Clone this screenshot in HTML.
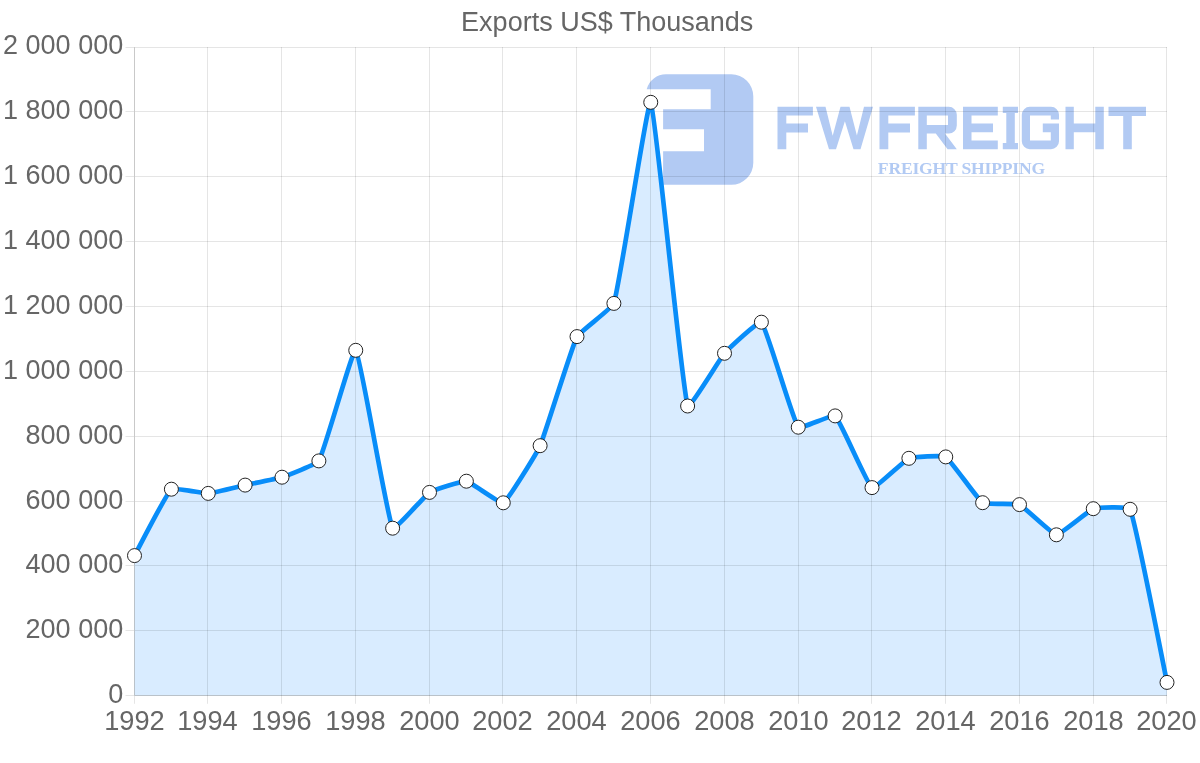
<!DOCTYPE html>
<html><head><meta charset="utf-8"><title>Exports US$ Thousands</title>
<style>html,body{margin:0;padding:0;background:#fff;}svg{display:block;will-change:transform}text{font-family:"Liberation Sans",sans-serif;fill:#666}</style></head><body>
<svg width="1200" height="763" viewBox="0 0 1200 763">
<rect width="1200" height="763" fill="#fff"/>
<g fill="#b2caf3">
<path d="M646.7 89.2 A20 20 0 0 1 666 74.3 L731.3 74.3 A22 22 0 0 1 753.3 96.3 L753.3 162.8 A22 22 0 0 1 731.3 184.8 L663.1 184.8 L663.1 151.2 L704 151.2 L704 129.3 L663.1 129.3 L663.1 109.2 L710.7 109.2 L710.7 89.2 Z"/>
<path d="M777.5 106.8 H812.9 V115.6 H786.3 V123.4 H808.0 V132.4 H786.3 V149.2 H777.5 Z"/>
<path d="M816 106.8 L825.5 106.8 L832.7 135.7 L840.5 106.8 L849.5 106.8 L856.9 135.4 L864 106.8 L873 106.8 L860.5 149.2 L853.5 149.2 L844.9 121.2 L836 149.2 L829 149.2 Z"/>
<path d="M879.5 106.8 H914.9 V115.6 H888.3 V123.4 H910.0 V132.4 H888.3 V149.2 H879.5 Z"/>
<path fill-rule="evenodd" d="M918.3 106.8 H948.8 A8 8 0 0 1 956.8 114.8 V125.5 A8 8 0 0 1 948.8 133.5 H945 L956.8 149.2 H947.6 L935.8 133.5 H926.8 V149.2 H918.3 Z M926.8 115.6 V125 H948 V115.6 Z"/>
<path d="M963 106.8 H997.8 V115.6 H971.5 V123.4 H993 V132.2 H971.5 V140.5 H997.8 V149.2 H963 Z"/>
<path d="M1002.8 106.8 H1018 V113 H1014.8 V143 H1018 V149.2 H1002.8 V143 H1006.3 V113 H1002.8 Z"/>
<path d="M1029.8 106.8 H1051 A8 8 0 0 1 1059 114.8 V119.5 H1050.8 V115.6 H1030 V140.5 H1050.8 V132.2 H1042.8 V123.5 H1059 V141.2 A8 8 0 0 1 1051 149.2 H1029.8 A8 8 0 0 1 1021.8 141.2 V114.8 A8 8 0 0 1 1029.8 106.8 Z"/>
<path d="M1065.5 106.8 H1073.8 V123.5 H1095.3 V106.8 H1103.8 V149.2 H1095.3 V132.2 H1073.8 V149.2 H1065.5 Z"/>
<path d="M1108.5 106.8 H1146 V116 H1131.8 V149.2 H1123.2 V116 H1108.5 Z"/>
</g>
<text x="961.4" y="174.3" text-anchor="middle" style="font-family:'Liberation Serif',serif;font-weight:bold;font-size:17.6px;letter-spacing:-0.2px;fill:#b2caf3">FREIGHT SHIPPING</text>
<path d="M134.50 695.5 L134.50 555.60 C138.19 548.96 166.42 493.38 171.38 489.20 C173.80 487.16 204.60 493.60 208.25 493.40 C211.97 493.19 241.43 485.91 245.12 485.10 C248.81 484.29 278.44 478.37 282.00 477.20 C285.81 475.95 316.98 464.16 318.88 460.90 C324.35 451.47 352.87 347.67 355.75 350.30 C360.24 354.40 386.88 517.12 392.62 528.20 C394.25 531.33 425.29 495.09 429.50 492.40 C432.66 490.39 462.88 480.71 466.38 481.20 C470.25 481.75 500.40 504.17 503.25 502.80 C507.78 500.62 537.39 451.87 540.12 445.70 C544.76 435.25 571.85 346.55 577.00 336.60 C579.22 332.32 612.43 307.98 613.88 303.40 C619.81 284.55 647.80 98.19 650.75 102.30 C655.17 108.45 681.53 385.26 687.62 406.00 C688.91 410.36 720.29 358.09 724.50 353.30 C727.66 349.71 759.14 319.97 761.38 322.20 C766.52 327.36 792.77 420.24 798.25 427.20 C800.15 429.61 832.74 413.95 835.12 415.90 C840.11 419.99 867.34 484.92 872.00 487.60 C874.72 489.16 904.74 460.02 908.88 458.30 C912.11 456.95 942.91 455.19 945.75 456.90 C950.28 459.63 978.09 499.77 982.62 502.70 C985.47 504.54 1016.28 503.20 1019.50 504.60 C1023.66 506.41 1052.59 534.59 1056.38 534.80 C1059.96 535.00 1089.19 510.10 1093.25 508.70 C1096.56 507.55 1128.85 506.30 1130.12 509.30 C1136.23 523.67 1163.31 665.09 1167.00 682.40 L1167.00 695.5 Z" fill="rgba(30,144,255,0.17)"/>
<g>
<rect x="125.5" y="47" width="8.5" height="1" fill="rgba(0,0,0,0.1)"/>
<rect x="135" y="47" width="1032" height="1" fill="rgba(0,0,0,0.1)"/>
<rect x="125.5" y="111" width="8.5" height="1" fill="rgba(0,0,0,0.1)"/>
<rect x="135" y="111" width="1032" height="1" fill="rgba(0,0,0,0.1)"/>
<rect x="125.5" y="176" width="8.5" height="1" fill="rgba(0,0,0,0.1)"/>
<rect x="135" y="176" width="1032" height="1" fill="rgba(0,0,0,0.1)"/>
<rect x="125.5" y="241" width="8.5" height="1" fill="rgba(0,0,0,0.1)"/>
<rect x="135" y="241" width="1032" height="1" fill="rgba(0,0,0,0.1)"/>
<rect x="125.5" y="306" width="8.5" height="1" fill="rgba(0,0,0,0.1)"/>
<rect x="135" y="306" width="1032" height="1" fill="rgba(0,0,0,0.1)"/>
<rect x="125.5" y="371" width="8.5" height="1" fill="rgba(0,0,0,0.1)"/>
<rect x="135" y="371" width="1032" height="1" fill="rgba(0,0,0,0.1)"/>
<rect x="125.5" y="436" width="8.5" height="1" fill="rgba(0,0,0,0.1)"/>
<rect x="135" y="436" width="1032" height="1" fill="rgba(0,0,0,0.1)"/>
<rect x="125.5" y="501" width="8.5" height="1" fill="rgba(0,0,0,0.1)"/>
<rect x="135" y="501" width="1032" height="1" fill="rgba(0,0,0,0.1)"/>
<rect x="125.5" y="565" width="8.5" height="1" fill="rgba(0,0,0,0.1)"/>
<rect x="135" y="565" width="1032" height="1" fill="rgba(0,0,0,0.1)"/>
<rect x="125.5" y="630" width="8.5" height="1" fill="rgba(0,0,0,0.1)"/>
<rect x="135" y="630" width="1032" height="1" fill="rgba(0,0,0,0.1)"/>
<rect x="125.5" y="695" width="8.5" height="1" fill="rgba(0,0,0,0.1)"/>
<rect x="135" y="695" width="1032" height="1" fill="rgba(0,0,0,0.21)"/>
<rect x="134" y="47" width="1" height="649" fill="rgba(0,0,0,0.21)"/>
<rect x="134" y="696" width="1" height="7.8" fill="rgba(0,0,0,0.1)"/>
<rect x="207" y="47" width="1" height="649" fill="rgba(0,0,0,0.1)"/>
<rect x="207" y="696" width="1" height="7.8" fill="rgba(0,0,0,0.1)"/>
<rect x="281" y="47" width="1" height="649" fill="rgba(0,0,0,0.1)"/>
<rect x="281" y="696" width="1" height="7.8" fill="rgba(0,0,0,0.1)"/>
<rect x="355" y="47" width="1" height="649" fill="rgba(0,0,0,0.1)"/>
<rect x="355" y="696" width="1" height="7.8" fill="rgba(0,0,0,0.1)"/>
<rect x="429" y="47" width="1" height="649" fill="rgba(0,0,0,0.1)"/>
<rect x="429" y="696" width="1" height="7.8" fill="rgba(0,0,0,0.1)"/>
<rect x="502" y="47" width="1" height="649" fill="rgba(0,0,0,0.1)"/>
<rect x="502" y="696" width="1" height="7.8" fill="rgba(0,0,0,0.1)"/>
<rect x="576" y="47" width="1" height="649" fill="rgba(0,0,0,0.1)"/>
<rect x="576" y="696" width="1" height="7.8" fill="rgba(0,0,0,0.1)"/>
<rect x="650" y="47" width="1" height="649" fill="rgba(0,0,0,0.1)"/>
<rect x="650" y="696" width="1" height="7.8" fill="rgba(0,0,0,0.1)"/>
<rect x="724" y="47" width="1" height="649" fill="rgba(0,0,0,0.1)"/>
<rect x="724" y="696" width="1" height="7.8" fill="rgba(0,0,0,0.1)"/>
<rect x="798" y="47" width="1" height="649" fill="rgba(0,0,0,0.1)"/>
<rect x="798" y="696" width="1" height="7.8" fill="rgba(0,0,0,0.1)"/>
<rect x="871" y="47" width="1" height="649" fill="rgba(0,0,0,0.1)"/>
<rect x="871" y="696" width="1" height="7.8" fill="rgba(0,0,0,0.1)"/>
<rect x="945" y="47" width="1" height="649" fill="rgba(0,0,0,0.1)"/>
<rect x="945" y="696" width="1" height="7.8" fill="rgba(0,0,0,0.1)"/>
<rect x="1019" y="47" width="1" height="649" fill="rgba(0,0,0,0.1)"/>
<rect x="1019" y="696" width="1" height="7.8" fill="rgba(0,0,0,0.1)"/>
<rect x="1093" y="47" width="1" height="649" fill="rgba(0,0,0,0.1)"/>
<rect x="1093" y="696" width="1" height="7.8" fill="rgba(0,0,0,0.1)"/>
<rect x="1166" y="47" width="1" height="649" fill="rgba(0,0,0,0.1)"/>
<rect x="1166" y="696" width="1" height="7.8" fill="rgba(0,0,0,0.1)"/>
</g>
<path d="M134.50 555.60 C138.19 548.96 166.42 493.38 171.38 489.20 C173.80 487.16 204.60 493.60 208.25 493.40 C211.97 493.19 241.43 485.91 245.12 485.10 C248.81 484.29 278.44 478.37 282.00 477.20 C285.81 475.95 316.98 464.16 318.88 460.90 C324.35 451.47 352.87 347.67 355.75 350.30 C360.24 354.40 386.88 517.12 392.62 528.20 C394.25 531.33 425.29 495.09 429.50 492.40 C432.66 490.39 462.88 480.71 466.38 481.20 C470.25 481.75 500.40 504.17 503.25 502.80 C507.78 500.62 537.39 451.87 540.12 445.70 C544.76 435.25 571.85 346.55 577.00 336.60 C579.22 332.32 612.43 307.98 613.88 303.40 C619.81 284.55 647.80 98.19 650.75 102.30 C655.17 108.45 681.53 385.26 687.62 406.00 C688.91 410.36 720.29 358.09 724.50 353.30 C727.66 349.71 759.14 319.97 761.38 322.20 C766.52 327.36 792.77 420.24 798.25 427.20 C800.15 429.61 832.74 413.95 835.12 415.90 C840.11 419.99 867.34 484.92 872.00 487.60 C874.72 489.16 904.74 460.02 908.88 458.30 C912.11 456.95 942.91 455.19 945.75 456.90 C950.28 459.63 978.09 499.77 982.62 502.70 C985.47 504.54 1016.28 503.20 1019.50 504.60 C1023.66 506.41 1052.59 534.59 1056.38 534.80 C1059.96 535.00 1089.19 510.10 1093.25 508.70 C1096.56 507.55 1128.85 506.30 1130.12 509.30 C1136.23 523.67 1163.31 665.09 1167.00 682.40" fill="none" stroke="#088df9" stroke-width="4.7" stroke-linejoin="miter" stroke-linecap="butt"/>
<circle cx="134.50" cy="555.60" r="7" fill="#fff" stroke="#222" stroke-width="1"/>
<circle cx="171.38" cy="489.20" r="7" fill="#fff" stroke="#222" stroke-width="1"/>
<circle cx="208.25" cy="493.40" r="7" fill="#fff" stroke="#222" stroke-width="1"/>
<circle cx="245.12" cy="485.10" r="7" fill="#fff" stroke="#222" stroke-width="1"/>
<circle cx="282.00" cy="477.20" r="7" fill="#fff" stroke="#222" stroke-width="1"/>
<circle cx="318.88" cy="460.90" r="7" fill="#fff" stroke="#222" stroke-width="1"/>
<circle cx="355.75" cy="350.30" r="7" fill="#fff" stroke="#222" stroke-width="1"/>
<circle cx="392.62" cy="528.20" r="7" fill="#fff" stroke="#222" stroke-width="1"/>
<circle cx="429.50" cy="492.40" r="7" fill="#fff" stroke="#222" stroke-width="1"/>
<circle cx="466.38" cy="481.20" r="7" fill="#fff" stroke="#222" stroke-width="1"/>
<circle cx="503.25" cy="502.80" r="7" fill="#fff" stroke="#222" stroke-width="1"/>
<circle cx="540.12" cy="445.70" r="7" fill="#fff" stroke="#222" stroke-width="1"/>
<circle cx="577.00" cy="336.60" r="7" fill="#fff" stroke="#222" stroke-width="1"/>
<circle cx="613.88" cy="303.40" r="7" fill="#fff" stroke="#222" stroke-width="1"/>
<circle cx="650.75" cy="102.30" r="7" fill="#fff" stroke="#222" stroke-width="1"/>
<circle cx="687.62" cy="406.00" r="7" fill="#fff" stroke="#222" stroke-width="1"/>
<circle cx="724.50" cy="353.30" r="7" fill="#fff" stroke="#222" stroke-width="1"/>
<circle cx="761.38" cy="322.20" r="7" fill="#fff" stroke="#222" stroke-width="1"/>
<circle cx="798.25" cy="427.20" r="7" fill="#fff" stroke="#222" stroke-width="1"/>
<circle cx="835.12" cy="415.90" r="7" fill="#fff" stroke="#222" stroke-width="1"/>
<circle cx="872.00" cy="487.60" r="7" fill="#fff" stroke="#222" stroke-width="1"/>
<circle cx="908.88" cy="458.30" r="7" fill="#fff" stroke="#222" stroke-width="1"/>
<circle cx="945.75" cy="456.90" r="7" fill="#fff" stroke="#222" stroke-width="1"/>
<circle cx="982.62" cy="502.70" r="7" fill="#fff" stroke="#222" stroke-width="1"/>
<circle cx="1019.50" cy="504.60" r="7" fill="#fff" stroke="#222" stroke-width="1"/>
<circle cx="1056.38" cy="534.80" r="7" fill="#fff" stroke="#222" stroke-width="1"/>
<circle cx="1093.25" cy="508.70" r="7" fill="#fff" stroke="#222" stroke-width="1"/>
<circle cx="1130.12" cy="509.30" r="7" fill="#fff" stroke="#222" stroke-width="1"/>
<circle cx="1167.00" cy="682.40" r="7" fill="#fff" stroke="#222" stroke-width="1"/>
<text x="607.2" y="31.0" text-anchor="middle" font-size="27.0">Exports US$ Thousands</text>
<text x="123.2" y="54.2" text-anchor="end" font-size="27.0">2 000 000</text>
<text x="123.2" y="118.9" text-anchor="end" font-size="27.0">1 800 000</text>
<text x="123.2" y="184.1" text-anchor="end" font-size="27.0">1 600 000</text>
<text x="123.2" y="249.1" text-anchor="end" font-size="27.0">1 400 000</text>
<text x="123.2" y="314.1" text-anchor="end" font-size="27.0">1 200 000</text>
<text x="123.2" y="379.1" text-anchor="end" font-size="27.0">1 000 000</text>
<text x="123.2" y="444.1" text-anchor="end" font-size="27.0">800 000</text>
<text x="123.2" y="509.1" text-anchor="end" font-size="27.0">600 000</text>
<text x="123.2" y="573.1" text-anchor="end" font-size="27.0">400 000</text>
<text x="123.2" y="638.1" text-anchor="end" font-size="27.0">200 000</text>
<text x="123.2" y="703.1" text-anchor="end" font-size="27.0">0</text>
<text x="134.5" y="730.1" text-anchor="middle" font-size="27.2">1992</text>
<text x="207.5" y="730.1" text-anchor="middle" font-size="27.2">1994</text>
<text x="281.5" y="730.1" text-anchor="middle" font-size="27.2">1996</text>
<text x="355.5" y="730.1" text-anchor="middle" font-size="27.2">1998</text>
<text x="429.5" y="730.1" text-anchor="middle" font-size="27.2">2000</text>
<text x="502.5" y="730.1" text-anchor="middle" font-size="27.2">2002</text>
<text x="576.5" y="730.1" text-anchor="middle" font-size="27.2">2004</text>
<text x="650.5" y="730.1" text-anchor="middle" font-size="27.2">2006</text>
<text x="724.5" y="730.1" text-anchor="middle" font-size="27.2">2008</text>
<text x="798.5" y="730.1" text-anchor="middle" font-size="27.2">2010</text>
<text x="871.5" y="730.1" text-anchor="middle" font-size="27.2">2012</text>
<text x="945.5" y="730.1" text-anchor="middle" font-size="27.2">2014</text>
<text x="1019.5" y="730.1" text-anchor="middle" font-size="27.2">2016</text>
<text x="1093.5" y="730.1" text-anchor="middle" font-size="27.2">2018</text>
<text x="1166.5" y="730.1" text-anchor="middle" font-size="27.2">2020</text>
</svg></body></html>
